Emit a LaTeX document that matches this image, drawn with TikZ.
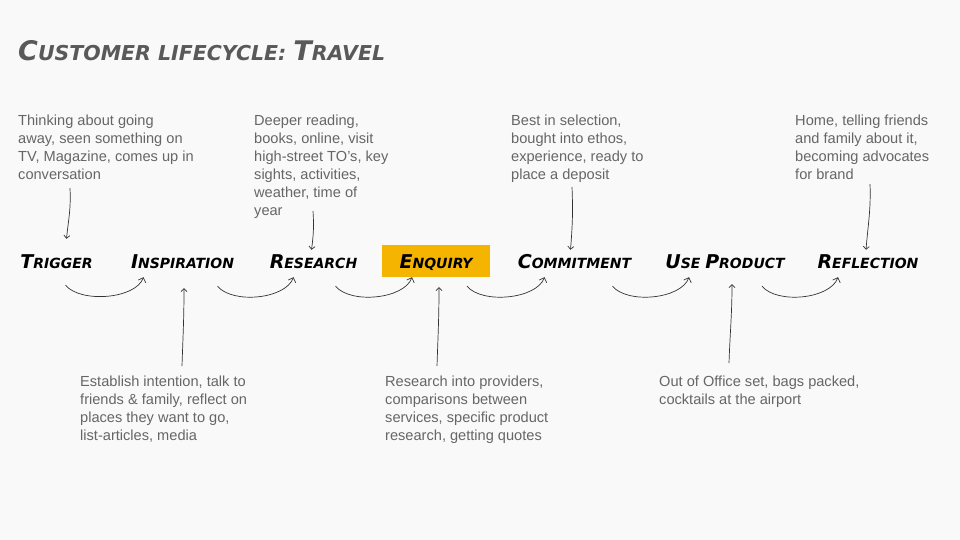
\documentclass[tikz,border=0pt]{standalone}
\usepackage{fontspec}
\setmainfont{Liberation Sans}
\newfontfamily\handfont{DejaVu Sans}
\usetikzlibrary{arrows.meta,calc}
\definecolor{bgc}{HTML}{F9F9F9}
\definecolor{notec}{HTML}{666666}
\definecolor{titlec}{HTML}{595959}
\definecolor{hilite}{HTML}{F4B400}
\definecolor{linec}{HTML}{333333}
\newcommand\ttlcap[2]{{\fontsize{27}{27}\selectfont #1}#2}
\newcommand\stgcap[2]{{\fontsize{19}{19}\selectfont #1}#2}
\tikzset{
  note/.style={anchor=north west, align=left, inner sep=0pt, text=notec,
               font=\fontsize{14.6}{18}\selectfont},
  stage/.style={inner sep=0pt, minimum height=32pt, text height=14pt, text depth=0pt,
                font=\handfont\bfseries\itshape\fontsize{14}{14}\selectfont},
  hot/.style={stage, fill=hilite, minimum width=108pt},
  pin/.style={draw=linec, line width=0.7pt, -{Straight Barb[length=3pt,width=6pt]}},
  flow/.style={draw=linec, line width=0.7pt, -{Straight Barb[length=4pt,width=8pt]}},
}
\begin{document}
\begin{tikzpicture}[x=1pt,y=-1pt]
\useasboundingbox[fill=bgc] (0,0) rectangle (960,540);
\node[anchor=base west, inner sep=0pt, text=titlec,
      font=\handfont\bfseries\itshape\fontsize{20.5}{20.5}\selectfont] (title) at (18,61)
      {\ttlcap{C}{USTOMER} LIFECYCLE: \ttlcap{T}{RAVEL}};
% stages
\node[stage] (trig) at (56.5,261) {\stgcap{T}{RIGGER}};
\node[stage] (insp) at (182.5,261) {\stgcap{I}{NSPIRATION}};
\node[stage] (res) at (313.5,261) {\stgcap{R}{ESEARCH}};
\node[hot] (enq) at (436,261) {\stgcap{E}{NQUIRY}};
\node[stage] (comm) at (574.5,261) {\stgcap{C}{OMMITMENT}};
\node[stage] (use) at (725,261) {\stgcap{U}{SE} \stgcap{P}{RODUCT}};
\node[stage] (refl) at (868,261) {\stgcap{R}{EFLECTION}};
% notes above
\node[note] (tn1) at (18,115) {Thinking about going\\away, seen something on\\TV, Magazine, comes up in\\conversation};
\node[note] (tn2) at (254,115) {Deeper reading,\\books, online, visit\\high-street TO’s, key\\sights, activities,\\weather, time of\\year};
\node[note] (tn3) at (511,115) {Best in selection,\\bought into ethos,\\experience, ready to\\place a deposit};
\node[note] (tn4) at (795,115) {Home, telling friends\\and family about it,\\becoming advocates\\for brand};
% notes below
\node[note] (bn1) at (80,376) {Establish intention, talk to\\friends \& family, reflect on\\places they want to go,\\list-articles, media};
\node[note] (bn2) at (385,376) {Research into providers,\\comparisons between\\services, specific product\\research, getting quotes};
\node[note] (bn3) at (659,376) {Out of Office set, bags packed,\\cocktails at the airport};
% pins
\draw[pin] ($(tn1.south west)+(52,8)$) .. controls +(1,22) and +(2,-20) .. ($(trig.north)+(10,-6)$);
\draw[pin] ($(tn2.south west)+(59,-8)$) .. controls +(1,15) and +(2,-15) .. ($(res.north)+(-2,5)$);
\draw[pin] ($(tn3.south west)+(61,4)$) .. controls +(1,25) and +(2,-25) .. ($(comm.north)+(-4,5)$);
\draw[pin] ($(tn4.south west)+(75,4)$) .. controls +(1,25) and +(2,-25) .. ($(refl.north)+(-2,5)$);
\draw[pin] ($(bn1.north west)+(102,-10)$) .. controls +(1,-30) and +(0,30) .. ($(insp.south)+(1.5,11)$);
\draw[pin] ($(bn2.north west)+(52,-10)$) .. controls +(1,-30) and +(0,30) .. ($(enq.south)+(3,10)$);
\draw[pin] ($(bn3.north west)+(70,-13)$) .. controls +(1,-30) and +(0,30) .. ($(use.south)+(7,7)$);
% flow
\draw[flow] ($(trig.south)+(9,8)$) .. controls +(15,18) and +(-8,22) .. ($(insp.south)+(-39,0)$);
\draw[flow] ($(insp.south)+(35,9)$) .. controls +(15,18) and +(-8,22) .. ($(res.south)+(-20,0)$);
\draw[flow] ($(res.south)+(22,9)$) .. controls +(15,18) and +(-8,22) .. ($(enq.south)+(-24,0)$);
\draw[flow] ($(enq.south)+(31,9)$) .. controls +(15,18) and +(-8,22) .. ($(comm.south)+(-30,0)$);
\draw[flow] ($(comm.south)+(38,9)$) .. controls +(15,18) and +(-8,22) .. ($(use.south)+(-36,0)$);
\draw[flow] ($(use.south)+(37,9)$) .. controls +(15,18) and +(-8,22) .. ($(refl.south)+(-30,0)$);
\end{tikzpicture}
\end{document}
